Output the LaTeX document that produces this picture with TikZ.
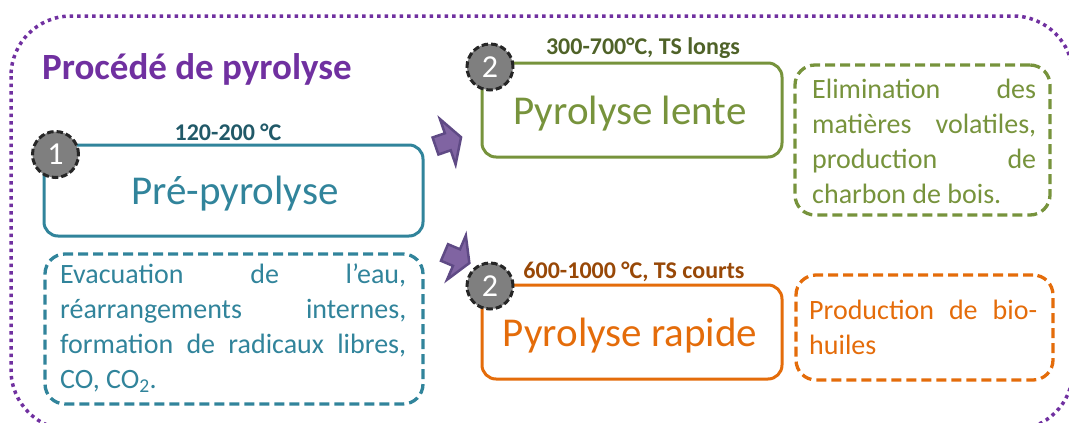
\documentclass[tikz,border=0pt]{standalone}
\usepackage{fontspec}
\setmainfont{Carlito}
\definecolor{ttl}{HTML}{7030A0}
\definecolor{teal}{HTML}{31849B}
\definecolor{tealdk}{HTML}{215968}
\definecolor{olive}{HTML}{77933C}
\definecolor{olivedk}{HTML}{4F6228}
\definecolor{orng}{HTML}{E46C0A}
\definecolor{orngdk}{HTML}{984807}
\definecolor{numgray}{HTML}{7F7F7F}
\definecolor{numedge}{HTML}{262626}
\definecolor{arrfill}{HTML}{8064A2}
\definecolor{arredge}{HTML}{5F4A85}
\begin{document}
\begin{tikzpicture}[x=1pt,y=-1pt,
  solidbox/.style={draw, line width=3pt, rounded corners=14pt, inner sep=0pt},
  dashbox/.style={draw, line width=3.3pt, rounded corners=20pt, dash pattern=on 10pt off 5pt, inner sep=0pt},
  numc/.style={circle, fill=numgray, draw=numedge, line width=3pt, dash pattern=on 6.5pt off 3pt, minimum size=46pt, inner sep=0pt, text=white, font=\fontsize{32}{32}\selectfont},
  boxtitle/.style={font=\fontsize{41}{41}\selectfont, anchor=base, inner sep=0pt},
  templabel/.style={font=\bfseries\fontsize{24}{24}\selectfont, anchor=base, inner sep=0pt},
  body/.style={font=\fontsize{28}{35}\selectfont, anchor=base west, align=left, inner sep=0pt},
  blockarrow/.style={fill=arrfill, draw=arredge, line width=2.5pt, line join=miter}
]
\useasboundingbox (0,0) rectangle (1069,423);
\clip (0,0) rectangle (1069,423);

% outer dotted frame
\draw[ttl, line width=3.5pt, dash pattern=on 3.5pt off 4pt, rounded corners=60pt] (11,16) rectangle (1073,430);

% title
\node[font=\bfseries\fontsize{37}{37}\selectfont, text=ttl, anchor=base west, inner sep=0pt] (title) at (42,79) {Procédé de pyrolyse};

% boxes
\node[solidbox, draw=teal, minimum width=379pt, minimum height=91pt] (b1) at (233.5,190.5) {};
\node[dashbox, draw=teal, minimum width=378pt, minimum height=150pt] (d1) at (234,329) {};
\node[solidbox, draw=olive, minimum width=300pt, minimum height=94pt] (b2) at (632,110) {};
\node[dashbox, draw=olive, minimum width=255pt, minimum height=150pt] (d2) at (922.5,140) {};
\node[solidbox, draw=orng, minimum width=300pt, minimum height=94pt] (b3) at (632,332) {};
\node[dashbox, draw=orng, minimum width=257pt, minimum height=105pt] (d3) at (924.5,327.5) {};

% box titles
\node[boxtitle, text=teal] (t1) at (235,204) {Pré-pyrolyse};
\node[boxtitle, text=olive] (t2) at (630,124) {Pyrolyse lente};
\node[boxtitle, text=orng] (t3) at (630,346) {Pyrolyse rapide};

% temperature labels
\node[templabel, text=tealdk] (l1) at (228,140) {120-200 °C};
\node[templabel, text=olivedk] (l2) at (643,54) {300-700°C, TS longs};
\node[templabel, text=orngdk] (l3) at (634,278) {600-1000 °C, TS courts};

% body texts (anchor = baseline of the last line)
\node[body, text=teal] (x1) at (60,388) {%
\makebox[346pt][s]{Evacuation de l’eau,}\\
\makebox[346pt][s]{réarrangements internes,}\\
\makebox[346pt][s]{formation de radicaux libres,}\\
CO, CO\textsubscript{2}.};
\node[body, text=olive] (x2) at (812,203) {%
\makebox[224pt][s]{Elimination des}\\
\makebox[224pt][s]{matières volatiles,}\\
\makebox[224pt][s]{production de}\\
charbon de bois.};
\node[body, text=orng] (x3) at (809,354) {%
\makebox[228pt][s]{Production de bio-}\\
huiles};

% number circles
\node[numc] (n1) at (55.5,154.5) {1};
\node[numc] (n2) at (490,67) {2};
\node[numc] (n3) at (490,286) {2};

% block arrows
\draw[blockarrow, shift={(435.5,146)}, rotate=19]
  (0,-9) -- (13,-9) -- (13,-24) -- (27,0) -- (13,24) -- (13,9) -- (0,9) -- cycle;
\draw[blockarrow, shift={(444.5,252.5)}, rotate=-23]
  (0,-9) -- (13,-9) -- (13,-24) -- (27,0) -- (13,24) -- (13,9) -- (0,9) -- cycle;
\end{tikzpicture}
\end{document}
